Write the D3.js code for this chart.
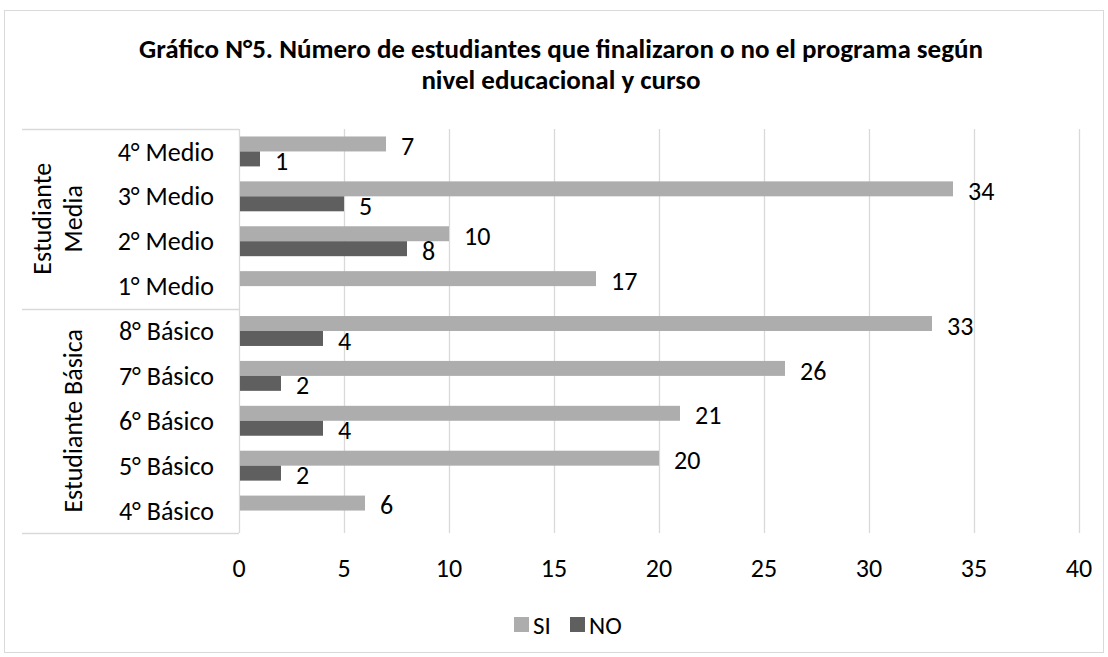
<!DOCTYPE html>
<html>
<head>
<meta charset="utf-8">
<script src="https://cdn.jsdelivr.net/npm/d3@7"></script>
<style>
  body { margin: 0; background: #fff; }
  svg { font-family: Carlito, Lato, "Open Sans", sans-serif; }
</style>
</head>
<body>
<svg id="chart"></svg>
<script>
// categories, top to bottom
const courses = ["4° Medio", "3° Medio", "2° Medio", "1° Medio",
                 "8° Básico", "7° Básico", "6° Básico", "5° Básico", "4° Básico"];
const groups = [
  { name: ["Estudiante", "Media"], courses: ["4° Medio", "3° Medio", "2° Medio", "1° Medio"] },
  { name: ["Estudiante Básica"], courses: ["8° Básico", "7° Básico", "6° Básico", "5° Básico", "4° Básico"] }
];
const siValues = [7, 34, 10, 17, 33, 26, 21, 20, 6];
const noValues = [1, 5, 8, null, 4, 2, 4, 2, null];
const xTicks = [0, 5, 10, 15, 20, 25, 30, 35, 40];
const seriesNames = ["SI", "NO"];
const seriesColors = ["#adadad", "#5f5f5f"];

const width = 1108, height = 657;
const plot = { left: 239, right: 1079, top: 129, bottom: 533 };
const gridColor = "#d9d9d9";
const fs = "26px";

const svg = d3.select("#chart").attr("width", width).attr("height", height);

// outer frame
svg.append("rect")
  .attr("x", 4.5).attr("y", 10.5)
  .attr("width", 1099).attr("height", 642)
  .attr("fill", "#fff").attr("stroke", gridColor);

// title
const titleLines = ["Gráfico N°5. Número de estudiantes que finalizaron o no el programa según",
                    "nivel educacional y curso"];
svg.append("g")
  .selectAll("text")
  .data(titleLines)
  .join("text")
  .attr("x", 561).attr("y", (d, i) => 58 + i * 31)
  .attr("text-anchor", "middle")
  .style("font-size", "27px").style("font-weight", "bold")
  .text(d => d);

const x = d3.scaleLinear().domain([0, 40]).range([plot.left, plot.right]);
const y = d3.scaleBand().domain(courses).range([plot.top, plot.bottom]);
const inner = d3.scaleBand().domain(seriesNames).range([0, y.bandwidth()]).paddingOuter(0.5).paddingInner(0);

// vertical gridlines
svg.append("g")
  .selectAll("line")
  .data(xTicks)
  .join("line")
  .attr("x1", d => Math.round(x(d)) + 0.5).attr("x2", d => Math.round(x(d)) + 0.5)
  .attr("y1", plot.top).attr("y2", plot.bottom)
  .attr("stroke", gridColor).attr("stroke-width", 1.3);

// x tick labels
svg.append("g")
  .selectAll("text")
  .data(xTicks)
  .join("text")
  .attr("x", d => x(d)).attr("y", 568)
  .attr("dy", "0.35em")
  .attr("text-anchor", "middle")
  .style("font-size", fs).attr("fill", "#000")
  .text(d => d);

// left category table lines
const boundaries = [plot.top, y(groups[1].courses[0]), plot.bottom];
svg.append("g")
  .selectAll("line")
  .data(boundaries)
  .join("line")
  .attr("x1", 22).attr("x2", plot.left)
  .attr("y1", d => Math.round(d) + 0.5).attr("y2", d => Math.round(d) + 0.5)
  .attr("stroke", gridColor).attr("stroke-width", 1.3);

// course labels
svg.append("g")
  .selectAll("text")
  .data(courses)
  .join("text")
  .attr("x", 214)
  .attr("y", d => y(d) + y.bandwidth() / 2)
  .attr("dy", "0.35em")
  .attr("text-anchor", "end")
  .style("font-size", fs)
  .text(d => d);

// group labels, rotated
groups.forEach(g => {
  const y0 = y(g.courses[0]);
  const y1 = y(g.courses[g.courses.length - 1]) + y.bandwidth();
  const cy = (y0 + y1) / 2;
  const lineH = 31;
  const n = g.name.length;
  g.name.forEach((line, i) => {
    const cx = 73 - (n - 1 - i) * lineH;
    svg.append("text")
      .attr("transform", `translate(${cx},${cy}) rotate(-90)`)
      .attr("text-anchor", "middle")
      .attr("dy", "0.35em")
      .style("font-size", fs)
      .text(line);
  });
});

// bars
const rows = courses.map((c, i) => ({ course: c, SI: siValues[i], NO: noValues[i] }));
seriesNames.forEach((s, si) => {
  const data = rows.filter(d => d[s] != null);
  svg.append("g")
    .selectAll("rect")
    .data(data)
    .join("rect")
    .attr("x", x(0) + 1)
    .attr("y", d => y(d.course) + inner(s))
    .attr("width", d => x(d[s]) - x(0) - 1)
    .attr("height", inner.bandwidth())
    .attr("fill", seriesColors[si]);

  svg.append("g")
    .selectAll("text")
    .data(data)
    .join("text")
    .attr("x", d => x(d[s]) + 15)
    .attr("y", d => y(d.course) + inner(s) + inner.bandwidth() / 2 + 2)
    .attr("dy", "0.35em")
    .style("font-size", fs)
    .text(d => d[s]);
});

// legend
const legend = svg.append("g");
const legendX = [514, 570];
seriesNames.forEach((s, i) => {
  legend.append("rect")
    .attr("x", legendX[i]).attr("y", 617)
    .attr("width", 15).attr("height", 15)
    .attr("fill", seriesColors[i]);
  legend.append("text")
    .attr("x", legendX[i] + 19).attr("y", 625)
    .attr("dy", "0.35em")
    .style("font-size", "25px")
    .text(s);
});
</script>
</body>
</html>
